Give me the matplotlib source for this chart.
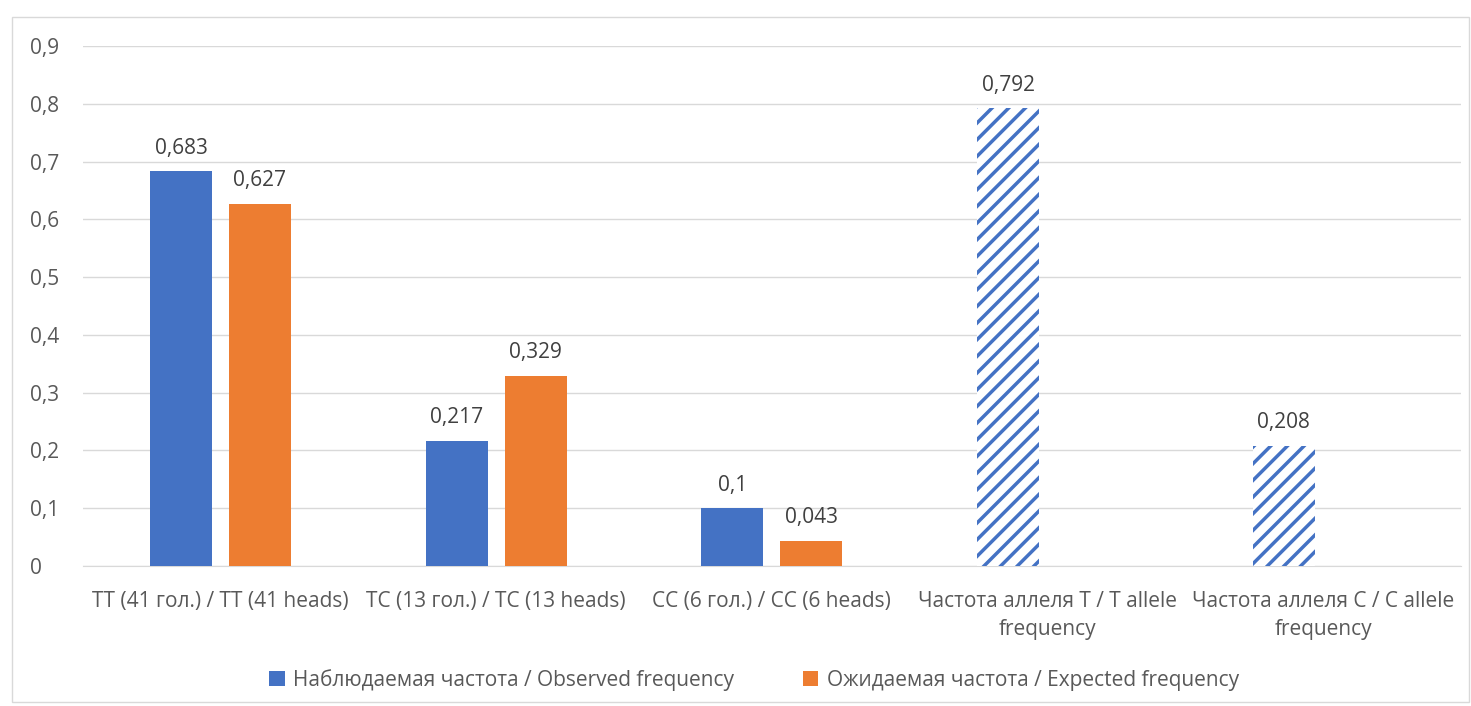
import matplotlib
matplotlib.use("Agg")
import matplotlib.pyplot as plt
from matplotlib.patches import Rectangle, Patch
from matplotlib.ticker import FuncFormatter

plt.rcParams['font.family'] = ['Open Sans', 'DejaVu Sans']
plt.rcParams['hatch.linewidth'] = 2.5

categories = ["TT (41 гол.) / TT (41 heads)", "TC (13 гол.) / TC (13 heads)",
              "CC (6 гол.) / CC (6 heads)", "Частота аллеля T / T allele\nfrequency",
              "Частота аллеля C / C allele\nfrequency"]
observed = [0.683, 0.217, 0.1]
expected = [0.627, 0.329, 0.043]
allele = [0.792, 0.208]
obs_labels = ["0,683", "0,217", "0,1"]
exp_labels = ["0,627", "0,329", "0,043"]
allele_labels = ["0,792", "0,208"]
legend_labels = ["Наблюдаемая частота / Observed frequency", "Ожидаемая частота / Expected frequency"]

blue = "#4472C4"
orange = "#ED7D31"
text_c = "#595959"
grid_c = "#D9D9D9"
fs = 15

fig = plt.figure(figsize=(14.71, 7.06), dpi=100)
fig.patches.append(Rectangle((12/1471, 0.005), 1 - 14/1471, 1 - 17/706 - 0.005,
                             transform=fig.transFigure, fill=False, edgecolor=grid_c, lw=1))
ax = fig.add_axes([82.7/1471, 1 - 566/706, (1461 - 82.7)/1471, (566 - 46)/706])

w = 0.225
off = 0.143
x_pairs = list(range(3))
xa = [3, 4]
b1 = ax.bar([x - off for x in x_pairs], observed, w, color=blue, zorder=3)
b2 = ax.bar([x + off for x in x_pairs], expected, w, color=orange, zorder=3)
b3 = ax.bar([x - off for x in xa], allele, w, color="white", edgecolor=blue,
            hatch="//", lw=0, zorder=3)

for bars, labs in ((b1, obs_labels), (b2, exp_labels), (b3, allele_labels)):
    for r, lab in zip(bars, labs):
        ax.text(r.get_x() + r.get_width() / 2, r.get_height() + 0.022, lab,
                ha="center", va="bottom", fontsize=fs, color="#404040")

ax.set_xlim(-0.5, 4.5)
ax.set_ylim(0, 0.9)
ax.set_yticks([i / 10 for i in range(10)])
ax.yaxis.set_major_formatter(FuncFormatter(lambda v, p: ("%g" % round(v, 1)).replace(".", ",")))
ax.set_xticks(range(5))
ax.set_xticklabels(categories, fontsize=fs, color=text_c, linespacing=1.45)
ax.tick_params(axis="y", labelsize=fs, labelcolor=text_c, length=0, pad=38)
for t in ax.get_yticklabels():
    t.set_horizontalalignment("left")
ax.tick_params(axis="x", length=0, pad=18)
ax.grid(axis="y", color=grid_c, lw=1, zorder=0)
for s in ("top", "right", "left"):
    ax.spines[s].set_visible(False)
ax.spines["bottom"].set_color(grid_c)
ax.set_axisbelow(True)

handles = [Patch(facecolor=blue), Patch(facecolor=orange)]
fig.legend(handles, legend_labels, loc="center", bbox_to_anchor=(754/1471, 1 - 680/706),
           ncol=2, frameon=False, fontsize=fs, labelcolor=text_c,
           handlelength=0.75, handleheight=0.75, handletextpad=0.4, columnspacing=3.3)

fig.savefig("out.png", dpi=100)
